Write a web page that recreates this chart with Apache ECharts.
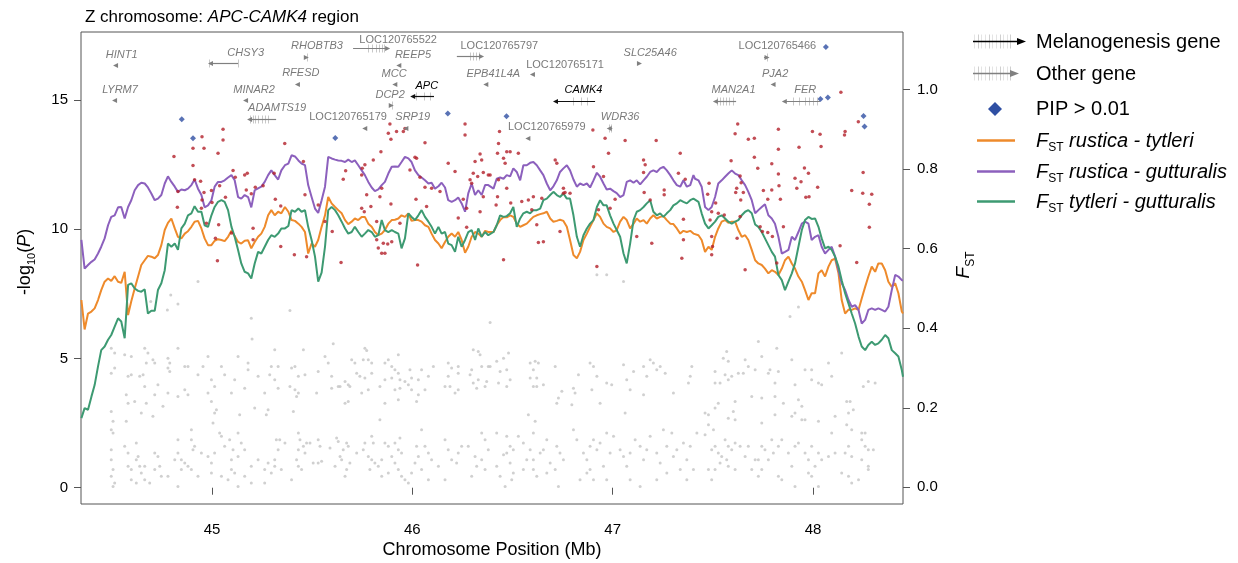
<!DOCTYPE html>
<html>
<head>
<meta charset="utf-8">
<script src="https://cdn.jsdelivr.net/npm/echarts@6/dist/echarts.min.js"></script>
<style>
  html, body { margin: 0; padding: 0; background: #fff; }
  #chart { width: 1238px; height: 563px; }
</style>
</head>
<body>
<div id="chart"></div>
<script>
// ---------- data ----------
// sliding-window centres (Mb) shared by the three FST tracks
const windowPos = [
  44.348,44.364,44.381,44.398,44.414,44.431,44.447,44.464,44.481,44.497,44.514,44.531,44.547,44.564,44.581,44.597,44.614,44.631,44.647,44.664,
  44.680,44.697,44.714,44.730,44.747,44.764,44.780,44.797,44.814,44.830,44.847,44.864,44.880,44.897,44.913,44.930,44.947,44.963,44.980,44.997,
  45.013,45.030,45.047,45.063,45.080,45.097,45.113,45.130,45.146,45.163,45.180,45.196,45.213,45.230,45.246,45.263,45.280,45.296,45.313,45.330,45.346,
  45.364,45.381,45.397,45.414,45.431,45.447,45.464,45.480,45.497,45.514,45.530,45.547,45.564,45.580,45.597,45.614,45.630,45.647,45.664,45.680,
  45.697,45.713,45.730,45.747,45.763,45.780,45.797,45.813,45.830,45.847,45.863,45.880,45.897,45.913,45.930,45.946,45.963,45.980,45.996,46.013,
  46.030,46.046,46.063,46.080,46.096,46.113,46.130,46.146,46.163,46.179,46.196,46.213,46.229,46.246,46.263,46.279,46.296,46.313,46.329,46.346,46.363,46.379,
  46.388,46.405,46.421,46.438,46.455,46.471,46.488,46.504,46.521,46.538,46.554,46.571,46.588,46.604,46.621,46.638,46.654,46.671,46.688,46.704,
  46.721,46.737,46.754,46.771,46.787,46.804,46.821,46.837,46.854,46.871,46.887,46.904,46.921,46.937,46.954,46.970,46.987,47.004,47.020,47.037,
  47.054,47.070,47.087,47.104,47.120,47.137,47.154,47.170,47.187,47.203,47.220,47.237,47.253,47.270,47.287,47.303,47.320,47.337,47.353,47.370,47.387,47.403,
  47.411,47.428,47.444,47.461,47.478,47.494,47.511,47.527,47.544,47.561,47.577,47.594,47.611,47.627,47.644,47.661,47.677,47.694,47.711,47.727,
  47.744,47.760,47.777,47.794,47.810,47.827,47.844,47.860,47.877,47.894,47.910,47.927,47.944,47.960,47.977,47.993,48.010,48.027,48.043,48.060,
  48.077,48.093,48.110,48.127,48.143,48.160,48.177,48.193,48.210,48.227,48.243,48.260,48.276,48.293,48.310,48.326,48.343,48.360,48.376,48.393,
  48.410,48.426,48.443,48.449
];

// FST rustica - tytleri
const fstRusticaTytleri = [
  .471,.397,.437,.442,.450,.471,.496,.517,.525,.519,.531,.517,.514,.542,.433,.468,.500,.530,.559,.571,
  .582,.580,.576,.584,.609,.647,.665,.676,.651,.630,.626,.638,.644,.655,.668,.670,.651,.626,.609,.609,
  .620,.624,.622,.619,.630,.645,.632,.617,.613,.620,.621,.601,.617,.630,.638,.655,.684,.697,.684,.693,.689,
  .705,.693,.672,.670,.663,.655,.642,.588,.613,.605,.622,.655,.684,.730,.714,.705,.697,.689,.672,.662,
  .668,.676,.672,.680,.680,.663,.655,.642,.634,.638,.647,.663,.672,.673,.676,.684,.680,.689,.670,.672,
  .672,.668,.659,.655,.638,.622,.613,.601,.617,.630,.638,.630,.642,.622,.590,.605,.630,.642,.638,.630,.645,.642,
  .642,.642,.659,.672,.680,.679,.684,.680,.663,.655,.659,.663,.672,.680,.684,.687,.689,.693,.676,.668,
  .670,.673,.670,.655,.622,.584,.576,.592,.622,.638,.655,.672,.689,.680,.663,.655,.651,.642,.647,.668,
  .680,.672,.651,.663,.676,.668,.672,.663,.676,.684,.676,.680,.682,.672,.663,.662,.651,.638,.645,.642,.645,.638,
  .638,.634,.622,.592,.605,.597,.630,.651,.668,.672,.665,.668,.668,.647,.630,.634,.622,.597,.571,.563,
  .559,.550,.538,.546,.542,.534,.550,.571,.580,.563,.550,.530,.517,.496,.471,.488,.488,.538,.546,.530,
  .555,.571,.575,.538,.471,.437,.447,.446,.450,.446,.475,.504,.530,.555,.542,.563,.563,.546,.517,.504,
  .513,.488,.442,.437
];

// FST rustica - gutturalis
const fstRusticaGutturalis = [
  .622,.550,.559,.567,.573,.588,.605,.626,.659,.680,.684,.704,.705,.676,.705,.722,.747,.760,.766,.764,
  .754,.739,.722,.726,.735,.764,.782,.768,.756,.743,.749,.747,.751,.760,.774,.751,.735,.704,.709,.722,
  .756,.768,.768,.772,.779,.785,.772,.730,.726,.735,.730,.704,.747,.752,.756,.768,.785,.797,.785,.774,.797,
  .810,.814,.835,.832,.822,.814,.810,.760,.730,.701,.690,.722,.756,.831,.827,.824,.822,.821,.818,.824,
  .818,.822,.810,.797,.785,.768,.754,.745,.749,.760,.768,.789,.806,.807,.806,.818,.831,.827,.818,.797,
  .785,.779,.772,.764,.766,.751,.757,.766,.754,.722,.718,.722,.729,.714,.693,.739,.764,.735,.747,.735,.760,.760,
  .764,.751,.776,.779,.776,.785,.782,.802,.793,.772,.810,.810,.816,.818,.810,.797,.785,.764,.747,.757,
  .772,.793,.802,.810,.797,.774,.756,.764,.760,.764,.754,.772,.791,.781,.764,.749,.751,.745,.740,.730,
  .735,.768,.772,.766,.772,.762,.772,.781,.793,.797,.793,.802,.806,.797,.785,.772,.760,.756,.772,.756,.760,.785,
  .776,.772,.756,.705,.697,.705,.730,.764,.772,.781,.789,.797,.789,.785,.772,.760,.743,.722,.689,.697,
  .705,.712,.684,.676,.663,.630,.588,.592,.597,.630,.622,.642,.663,.668,.663,.622,.630,.634,.605,.588,
  .597,.605,.580,.546,.513,.496,.471,.454,.458,.446,.412,.421,.446,.450,.446,.450,.446,.442,.454,.496,
  .534,.530,.521,.521
];

// FST tytleri - gutturalis
const fstTytleriGutturalis = [
  .174,.199,.195,.228,.257,.304,.345,.354,.371,.383,.404,.425,.417,.375,.509,.513,.500,.494,.492,.498,
  .437,.444,.444,.496,.513,.546,.613,.605,.613,.597,.651,.663,.684,.689,.707,.693,.693,.659,.655,.684,
  .705,.718,.722,.718,.697,.655,.630,.597,.563,.542,.538,.525,.563,.592,.588,.605,.622,.634,.630,.638,.651,
  .651,.657,.697,.693,.701,.693,.697,.655,.622,.580,.517,.540,.605,.697,.705,.697,.684,.668,.651,.638,
  .642,.655,.642,.630,.638,.647,.642,.630,.634,.672,.647,.642,.647,.642,.638,.601,.626,.689,.680,.672,
  .684,.697,.680,.668,.655,.638,.655,.638,.642,.613,.609,.592,.630,.605,.622,.642,.647,.622,.651,.630,.642,.634,
  .638,.642,.659,.684,.680,.682,.689,.705,.655,.676,.689,.693,.689,.697,.697,.701,.722,.726,.735,.743,
  .735,.730,.739,.726,.726,.684,.630,.605,.634,.651,.663,.672,.705,.722,.709,.709,.684,.663,.647,.630,
  .588,.563,.613,.672,.693,.697,.705,.714,.722,.693,.684,.689,.680,.689,.697,.709,.714,.722,.718,.714,.722,.726,
  .730,.718,.689,.663,.651,.659,.668,.680,.684,.676,.668,.663,.668,.672,.684,.693,.697,.689,.661,.655,
  .642,.626,.609,.592,.580,.534,.521,.496,.517,.538,.563,.605,.647,.672,.680,.675,.676,.655,.626,.601,
  .605,.597,.580,.555,.521,.488,.462,.437,.412,.379,.354,.345,.358,.366,.358,.362,.371,.383,.375,.345,
  .337,.329,.295,.278
];

// SNP association: [position (Mb), -log10(P)]
const snpsBackground = [
  [44.930,7.98],[44.794,7.46],[44.830,7.11],[44.694,7.20],[44.777,6.88],[45.196,6.56],[45.200,5.75],[44.497,5.40],[44.514,5.21],[44.564,5.14],
  [44.597,5.08],[44.664,5.40],[44.680,5.21],[44.714,4.82],[44.780,5.01],[44.789,4.82],[44.830,5.40],[44.864,4.69],[44.880,4.69],[44.980,5.08],
  [45.047,4.69],[45.130,5.08],[45.180,4.82],[45.313,5.34],[45.296,4.69],[45.330,4.69],[44.514,4.63],[44.497,4.43],[44.581,4.31],[44.597,4.37],
  [44.639,4.31],[44.656,4.37],[44.672,4.82],[44.705,4.95],[44.730,3.98],[44.780,4.63],[44.789,4.50],[44.930,4.37],[44.955,4.69],[44.997,4.18],
  [45.013,3.92],[45.063,4.37],[45.113,4.18],[45.180,4.56],[45.230,4.31],[45.288,4.37],[45.313,4.18],[45.330,3.85],[44.572,3.60],[44.664,3.92],
  [44.714,3.60],[44.780,3.66],[44.864,3.79],[44.880,3.60],[44.980,3.66],[45.097,3.66],[45.163,3.85],[45.263,3.66],[44.581,3.27],[44.614,3.34],
  [44.672,3.27],[44.755,3.15],[44.830,3.53],[44.997,3.34],[45.013,2.89],[45.022,3.02],[45.138,2.82],[45.213,3.08],[45.280,3.02],[45.271,2.82],
  [44.497,2.95],[44.506,2.57],[44.572,2.57],[44.647,2.89],[44.705,2.76],[44.897,2.24],[45.005,2.50],[44.497,2.24],[44.506,2.12],[44.830,1.86],
  [44.913,1.60],[45.038,2.12],[45.047,1.99],[45.130,2.12],[45.146,1.73],[45.088,1.86],[45.063,1.60],[45.105,1.47],[45.163,1.47],[45.013,1.34],
  [44.980,1.21],[44.997,0.96],[45.097,1.08],[45.130,1.21],[45.321,1.86],[45.338,1.86],[45.330,1.47],[45.313,1.08],[44.497,1.47],[44.497,1.08],
  [44.506,0.70],[44.497,0.44],[44.506,0.05],[44.514,0.18],[44.581,0.83],[44.597,0.70],[44.622,1.08],[44.631,1.21],[44.639,0.83],[44.647,0.57],
  [44.597,0.31],[44.622,0.18],[44.664,0.31],[44.689,0.18],[44.714,0.70],[44.739,0.83],[44.747,0.44],[44.814,1.08],[44.830,1.34],[44.847,1.08],
  [44.864,0.96],[44.880,0.83],[44.847,0.70],[44.897,0.70],[44.930,0.44],[44.830,0.05],[44.997,0.57],[45.047,0.44],[45.097,0.70],[45.113,0.57],
  [45.163,0.44],[45.196,0.83],[45.230,1.08],[45.263,0.70],[45.280,0.96],[45.296,0.57],[45.313,0.83],[45.346,0.70],[45.196,0.18],[45.263,0.18],
  [44.714,1.34],[44.730,1.21],[44.564,1.60],[44.581,1.34],[44.622,1.73],[44.897,1.86],[44.905,1.47],[44.947,1.34],[44.664,0.83],[44.780,0.44],
  [45.080,0.31],[45.130,0.05],
  [45.389,6.86],[45.605,5.57],[45.763,5.40],[45.772,5.31],[45.930,5.14],[46.304,5.34],[46.329,5.27],[46.338,5.14],[45.456,5.34],[45.564,5.08],
  [45.580,4.82],[45.697,4.95],[45.713,4.82],[45.755,4.95],[45.780,4.95],[45.797,4.82],[45.863,4.82],[45.880,4.95],[45.897,4.69],[45.913,4.56],
  [45.930,4.43],[45.988,4.56],[46.046,4.56],[46.105,4.69],[46.179,4.82],[46.196,4.63],[46.229,4.69],[46.296,4.56],[46.346,4.69],[46.379,4.69],
  [45.397,4.63],[45.414,4.69],[45.431,4.31],[45.464,4.37],[45.530,4.50],[45.597,4.31],[45.639,3.92],[45.664,4.11],[45.680,3.98],[45.722,4.43],
  [45.738,4.31],[45.763,4.24],[45.797,4.43],[45.863,4.18],[45.897,4.24],[45.938,4.18],[45.963,4.11],[45.996,4.24],[46.030,4.18],[46.080,4.31],
  [46.179,4.31],[46.229,4.43],[46.288,4.37],[46.329,4.18],[46.371,4.11],[45.389,3.92],[45.414,3.79],[45.431,3.66],[45.422,3.53],[45.522,3.66],
  [45.597,3.85],[45.630,3.92],[45.688,3.92],[45.747,3.66],[45.780,3.79],[45.838,3.92],[45.913,3.79],[45.938,3.85],[45.980,3.98],[45.996,3.79],
  [46.030,3.60],[46.063,3.79],[46.163,3.92],[46.188,3.92],[46.213,3.66],[46.229,3.79],[46.304,4.05],[46.321,3.85],[46.363,3.92],[45.664,3.27],
  [45.680,3.34],[45.863,3.27],[45.930,3.40],[46.021,3.34],[45.406,2.95],[45.838,2.63],[46.046,2.24],[45.364,1.73],[45.431,2.12],[45.439,1.86],
  [45.456,1.60],[45.472,1.73],[45.489,1.73],[45.530,1.86],[45.539,1.60],[45.431,1.47],[45.464,1.34],[45.422,1.08],[45.431,0.83],[45.447,0.70],
  [45.397,0.31],[45.505,0.96],[45.530,0.96],[45.547,1.02],[45.589,1.54],[45.622,1.92],[45.630,1.79],[45.655,1.47],[45.672,1.73],[45.680,1.60],
  [45.639,1.21],[45.647,1.08],[45.672,0.70],[45.664,0.44],[45.614,0.83],[45.688,0.96],[45.722,1.34],[45.755,1.47],[45.763,1.73],[45.797,1.99],
  [45.805,1.73],[45.780,1.21],[45.797,1.08],[45.813,0.96],[45.788,0.70],[45.830,0.83],[45.847,1.08],[45.863,1.73],[45.880,1.60],[45.913,1.73],
  [45.938,1.92],[45.930,1.47],[45.946,1.34],[45.897,1.21],[45.913,0.96],[45.930,0.70],[45.880,0.57],[45.847,0.44],[45.946,0.44],[45.963,0.31],
  [45.980,0.18],[45.996,0.57],[46.013,0.96],[46.030,1.21],[46.063,1.60],[46.080,1.34],[46.046,0.70],[46.021,1.60],[46.096,1.08],[46.130,0.83],
  [46.163,1.86],[46.179,1.47],[46.196,1.08],[46.229,1.34],[46.221,0.96],[46.246,1.60],[46.279,1.60],[46.313,1.21],[46.346,2.12],[46.363,1.86],
  [46.379,1.47],[46.346,1.08],[46.321,0.83],[46.363,0.70],[46.163,0.31],[46.296,0.44],[46.080,0.31],
  [46.388,6.39],[46.921,8.24],[46.970,8.24],[47.054,7.98],[46.480,5.21],[46.455,5.01],[46.421,4.89],[46.388,4.69],[46.471,4.56],[46.438,4.50],
  [46.488,4.18],[46.430,4.05],[46.471,3.92],[46.588,4.82],[46.613,4.89],[46.629,4.82],[46.604,4.56],[46.588,4.24],[46.621,4.24],[46.604,3.92],
  [46.621,3.92],[46.654,3.98],[46.713,4.69],[46.729,3.47],[46.721,3.27],[46.796,3.21],[46.746,3.73],[46.829,4.37],[46.887,4.82],[46.904,4.69],
  [46.921,4.31],[46.896,3.79],[46.804,3.85],[46.812,3.66],[46.937,3.27],[46.970,4.05],[46.995,3.98],[47.054,4.76],[47.070,4.18],[47.087,3.79],
  [47.154,4.69],[47.187,4.95],[47.203,4.82],[47.237,4.69],[47.220,4.56],[47.170,4.31],[47.154,3.60],[47.104,4.50],[47.262,4.43],[47.303,3.66],
  [47.387,4.31],[47.395,4.69],[47.378,4.05],[46.579,2.82],[46.613,2.57],[47.062,2.89],[46.421,2.12],[46.471,1.99],[46.488,1.60],[46.504,1.47],
  [46.455,1.28],[46.421,0.83],[46.471,1.34],[46.488,0.96],[46.438,0.44],[46.504,0.57],[46.463,0.05],[46.496,0.31],[46.529,1.99],[46.554,1.73],
  [46.604,2.12],[46.588,1.47],[46.571,1.08],[46.604,1.08],[46.638,1.34],[46.671,1.86],[46.654,1.47],[46.688,0.96],[46.721,1.60],[46.737,1.34],
  [46.754,1.08],[46.713,0.70],[46.671,0.57],[46.621,0.44],[46.729,0.05],[46.804,2.24],[46.821,1.86],[46.854,1.34],[46.871,1.08],[46.887,1.60],
  [46.904,1.86],[46.921,1.47],[46.937,1.73],[46.887,0.70],[46.837,0.31],[46.871,0.57],[46.904,0.31],[46.954,0.83],[46.970,0.31],[46.987,1.34],
  [46.970,2.12],[47.004,1.99],[47.037,1.47],[47.054,1.21],[47.070,0.83],[47.087,1.34],[47.112,1.86],[47.137,1.60],[47.154,1.08],[47.170,1.47],
  [47.187,1.99],[47.220,1.34],[47.237,0.96],[47.253,2.24],[47.270,1.60],[47.295,2.12],[47.303,1.21],[47.320,1.47],[47.353,1.73],[47.370,1.08],
  [47.387,1.60],[47.403,0.70],[47.420,2.12],[47.270,0.57],[47.337,0.70],[47.220,0.31],[47.087,0.31],[47.137,0.05],[47.370,0.31],[46.604,0.70],
  [46.554,0.70],
  [47.927,6.99],[47.885,6.62],[47.727,5.66],[47.819,5.40],[48.143,5.21],[47.569,5.27],[47.552,5.01],[47.577,4.89],[47.661,4.95],[47.677,4.69],
  [47.627,4.43],[47.652,4.43],[47.511,4.50],[47.561,4.37],[47.577,4.18],[47.511,4.05],[47.536,4.05],[47.594,4.31],[47.711,4.56],[47.744,5.08],
  [47.777,4.43],[47.785,4.56],[47.827,4.50],[47.810,4.05],[47.894,4.95],[47.910,3.98],[47.960,4.56],[47.993,4.56],[48.027,4.05],[48.043,3.98],
  [48.077,4.82],[48.093,4.31],[47.993,4.18],[48.251,3.92],[48.276,4.11],[48.310,4.05],[47.694,3.53],[47.744,3.47],[47.810,3.53],[47.852,3.27],
  [47.927,3.40],[47.944,3.15],[47.611,3.34],[47.527,3.27],[47.461,2.89],[47.478,2.82],[47.511,3.08],[47.577,2.69],[47.602,2.95],[47.611,2.63],
  [47.744,2.50],[47.810,2.82],[47.894,2.76],[47.910,2.89],[47.944,2.63],[47.960,2.63],[48.027,2.57],[48.110,2.76],[48.168,3.34],[48.185,3.34],
  [48.177,2.89],[48.201,3.02],[48.168,2.44],[48.193,2.24],[48.243,2.12],[48.260,2.12],[47.478,2.44],[47.503,2.24],[47.461,2.05],[47.511,1.60],
  [47.494,1.47],[47.527,1.34],[47.544,1.21],[47.561,1.86],[47.577,1.60],[47.594,1.47],[47.611,1.73],[47.636,1.60],[47.569,1.08],[47.536,0.96],
  [47.577,0.83],[47.511,0.70],[47.478,0.70],[47.494,0.31],[47.611,0.70],[47.661,1.21],[47.677,1.60],[47.711,1.08],[47.744,1.60],[47.760,1.47],
  [47.794,1.86],[47.802,1.34],[47.777,1.08],[47.827,1.60],[47.844,1.86],[47.877,1.34],[47.894,0.83],[47.910,1.60],[47.927,1.73],[47.960,1.34],
  [47.977,1.08],[47.993,1.60],[48.010,0.83],[48.027,1.34],[48.043,1.08],[48.077,1.21],[48.093,2.12],[48.110,1.34],[48.160,1.34],[48.177,1.60],
  [48.193,1.21],[48.243,1.86],[48.260,1.60],[48.276,1.47],[48.301,1.47],[48.243,1.08],[48.276,0.83],[47.694,0.70],[47.744,0.70],[47.727,0.44],
  [47.827,0.44],[47.844,0.31],[47.910,0.05],[47.977,0.57],[47.993,0.44],[48.027,0.05],[48.143,0.57],[48.177,0.44],[48.193,0.18],[48.227,0.31],
  [48.276,0.70],[47.727,1.08]
];

const snpsSignificant = [
  [44.950,13.58],[45.055,13.87],[45.055,13.45],[44.905,13.13],[44.960,13.13],[45.030,12.94],[44.810,12.81],[44.905,12.47],[45.105,12.27],[45.116,12.01],
  [45.163,12.10],[45.176,12.17],[44.913,11.91],[44.943,11.86],[44.830,11.46],[44.960,11.42],[44.997,11.50],[45.038,11.68],[45.067,11.24],[44.827,10.85],
  [44.950,11.13],[45.000,11.03],[44.947,10.81],[44.972,10.23],[45.033,10.17],[45.017,9.65],[45.027,8.78],[45.171,11.52],[45.196,11.37],[45.216,11.62],
  [45.255,11.68],[45.205,10.04],[45.205,9.59],[45.343,9.33],[45.316,11.16],[45.343,10.90],[45.363,13.32],[45.310,12.17],[45.097,9.85],
  [45.456,12.62],[45.464,11.33],[45.530,10.94],[45.411,9.01],[45.472,8.94],[45.564,10.30],[45.600,9.91],[45.644,8.71],[45.655,11.93],[45.667,12.26],
  [45.747,12.10],[45.750,12.36],[45.763,12.49],[45.805,12.68],[45.843,13.00],[45.772,11.33],[45.793,10.88],[45.747,10.81],[45.760,10.68],[45.822,10.30],
  [45.838,11.26],[45.847,11.59],[45.822,9.59],[45.830,9.27],[45.847,9.07],[45.863,9.07],[45.855,9.46],[45.877,9.43],[45.897,9.52],[45.893,10.98],
  [45.880,13.71],[45.893,13.48],[45.888,14.07],[45.921,13.78],[45.938,10.23],[45.955,13.78],[45.963,13.90],[45.988,12.29],[46.013,12.78],[46.021,12.75],
  [46.018,11.16],[46.026,8.62],[46.038,12.01],[46.063,13.35],[46.063,11.62],[46.071,10.88],[46.096,11.59],[46.138,11.46],[46.179,12.55],[46.213,12.23],
  [46.229,10.43],[46.254,11.16],[46.263,14.07],[46.263,13.65],[46.271,10.08],[46.288,11.91],[46.296,11.78],[46.304,12.17],[46.313,12.62],[46.326,12.04],
  [46.346,12.68],[46.354,12.19],[46.338,12.91],[46.354,11.26],[46.338,10.68],[46.379,12.10],[46.271,10.81],
  [46.435,13.78],[46.430,13.32],[46.425,12.94],[46.471,13.00],[46.488,13.00],[46.455,12.75],[46.463,12.55],[46.529,12.94],[46.388,12.10],[46.430,11.91],
  [46.471,11.59],[46.425,11.26],[46.418,10.94],[46.491,11.01],[46.546,11.07],[46.579,11.13],[46.604,11.26],[46.596,10.75],[46.621,10.17],[46.629,9.49],
  [46.654,9.52],[46.455,8.82],[46.646,11.20],[46.713,12.68],[46.721,12.55],[46.737,9.91],[46.754,11.59],[46.754,11.39],[46.762,11.42],[46.787,11.39],
  [46.901,13.84],[46.962,13.52],[46.979,12.94],[46.904,12.42],[46.929,10.75],[46.921,8.56],[46.954,12.04],[46.987,10.81],[47.062,13.43],[47.012,11.16],
  [47.120,9.72],[47.154,12.68],[47.162,12.49],[47.157,11.42],[47.195,9.46],[47.187,11.13],[47.217,13.43],[47.257,11.52],[47.257,11.33],[47.353,10.39],
  [47.337,12.94],[47.345,8.88],[47.353,9.59],[47.362,11.93],[47.328,12.17],[47.154,12.19],
  [47.624,14.07],[47.611,13.69],[47.677,13.48],[47.707,13.52],[47.827,13.87],[47.827,13.09],[47.930,13.17],[47.997,13.78],[48.035,13.67],[48.040,13.20],
  [48.160,13.78],[48.157,13.65],[48.226,14.16],[47.591,12.65],[47.707,12.78],[47.724,12.36],[47.794,12.53],[47.481,11.78],[47.474,11.35],[47.514,11.01],
  [47.636,12.06],[47.641,11.80],[47.619,11.59],[47.614,11.42],[47.652,11.42],[47.639,11.13],[47.494,10.68],[47.527,10.62],[47.557,10.55],[47.486,10.36],
  [47.636,10.49],[47.752,11.50],[47.794,11.52],[47.827,12.14],[47.830,11.68],[47.774,11.16],[47.837,11.16],[47.910,11.97],[47.940,11.84],[47.919,11.59],
  [47.957,12.37],[47.977,12.17],[48.023,11.62],[47.964,11.24],[47.980,11.26],[47.736,10.10],[47.774,9.87],[47.797,9.72],[47.747,9.91],[47.852,10.10],
  [47.621,9.65],[47.494,9.72],[47.498,9.33],[47.494,9.01],[47.661,8.43],[47.819,8.69],[48.135,9.36],[48.218,8.71],[48.193,11.50],[48.250,12.19],
  [48.248,11.39],[48.293,11.35],[48.281,10.97],[48.281,10.08],[48.139,15.30]
];

// SNPs with posterior inclusion probability > 0.01
const snpsPip = [
  [44.849,14.25],[44.905,13.52],[45.615,13.53],[46.177,14.48],[46.470,14.37],
  [48.064,17.05],[48.037,15.04],[48.074,15.10],[48.252,14.38],[48.257,13.97]
];

// genes: name, start, end, strand (arrow side), track height, label x, label y, melanogenesis
const genes = [
  ['HINT1',        44.506, 44.526, -1, 16.35, 44.549, 16.74, 0],
  ['LYRM7',        44.501, 44.521, -1, 15.00, 44.541, 15.38, 0],
  ['CHSY3',        44.980, 45.130, -1, 16.43, 45.168, 16.81, 0],
  ['RHOBTB3',      45.463, 45.483,  1, 16.67, 45.524, 17.09, 0],
  ['RFESD',        45.414, 45.434, -1, 15.62, 45.443, 16.04, 0],
  ['MINAR2',       45.155, 45.175, -1, 15.00, 45.210, 15.38, 0],
  ['ADAMTS19',     45.175, 45.320, -1, 14.26, 45.325, 14.69, 0],
  ['LOC120765179', 45.750, 45.768, -1, 13.92, 45.679, 14.35, 0],
  ['LOC120765522', 45.704, 45.889,  1, 17.00, 45.929, 17.34, 0],
  ['REEP5',        45.920, 45.938, -1, 16.35, 46.003, 16.74, 0],
  ['MCC',          45.900, 45.918, -1, 15.60, 45.909, 16.01, 0],
  ['APC',          45.989, 46.108, -1, 15.16, 46.072, 15.55, 1],
  ['DCP2',         45.887, 45.907,  1, 14.80, 45.889, 15.19, 0],
  ['SRP19',        45.955, 45.973, -1, 13.92, 46.002, 14.34, 0],
  ['LOC120765797', 46.222, 46.358,  1, 16.69, 46.434, 17.10, 0],
  ['EPB41L4A',     46.354, 46.372, -1, 15.60, 46.404, 16.01, 0],
  ['LOC120765171', 46.587, 46.605, -1, 15.99, 46.762, 16.35, 0],
  ['CAMK4',        46.702, 46.912, -1, 14.97, 46.854, 15.38, 1],
  ['LOC120765979', 46.564, 46.582, -1, 13.54, 46.671, 13.95, 0],
  ['WDR36',        46.970, 46.998, -1, 13.90, 47.037, 14.34, 0],
  ['SLC25A46',     47.128, 47.146,  1, 16.42, 47.187, 16.81, 0],
  ['MAN2A1',       47.500, 47.616, -1, 14.97, 47.603, 15.38, 0],
  ['LOC120765466', 47.755, 47.783,  1, 16.67, 47.822, 17.09, 0],
  ['PJA2',         47.788, 47.806, -1, 15.60, 47.811, 16.01, 0],
  ['FER',          47.844, 48.035, -1, 14.97, 47.961, 15.38, 0]
];

// exon positions (Mb) per gene
const exons = [
  ['CHSY3', 44.985], ['CHSY3', 45.128],
  ['ADAMTS19', 45.190], ['ADAMTS19', 45.205], ['ADAMTS19', 45.215], ['ADAMTS19', 45.230], ['ADAMTS19', 45.250], ['ADAMTS19', 45.265], ['ADAMTS19', 45.280],
  ['LOC120765522', 45.780], ['LOC120765522', 45.800], ['LOC120765522', 45.820], ['LOC120765522', 45.835], ['LOC120765522', 45.850], ['LOC120765522', 45.860],
  ['APC', 46.020], ['APC', 46.060], ['APC', 46.090],
  ['LOC120765797', 46.290], ['LOC120765797', 46.305], ['LOC120765797', 46.320], ['LOC120765797', 46.335],
  ['CAMK4', 46.800], ['CAMK4', 46.840], ['CAMK4', 46.870],
  ['MAN2A1', 47.520], ['MAN2A1', 47.535], ['MAN2A1', 47.550], ['MAN2A1', 47.565], ['MAN2A1', 47.580],
  ['FER', 47.900], ['FER', 47.930], ['FER', 47.960], ['FER', 47.980], ['FER', 48.000], ['FER', 48.020],
  ['RHOBTB3', 45.473], ['WDR36', 46.980], ['WDR36', 46.990], ['DCP2', 45.897], ['LOC120765466', 47.768], ['MAN2A1', 47.600]
];

const xTicks = [45, 46, 47, 48];
const pTicks = [0, 5, 10, 15];
const fstTicks = [0, 0.2, 0.4, 0.6, 0.8, 1.0];

// ---------- chart ----------
const FONT = '"Liberation Sans", Arial, Helvetica, sans-serif';
const COL_ORANGE = '#EE8A2B';
const COL_PURPLE = '#8C60BD';
const COL_GREEN = '#3D9A72';
const COL_RED = '#B3202A';
const COL_BLUE = '#2F4FA3';

const chart = echarts.init(document.getElementById('chart'), null, { renderer: 'canvas' });

const zip = (vals) => windowPos.map((p, i) => [p, vals[i]]);

function renderGene(params, api) {
  const g = genes[params.dataIndex];
  const p0 = api.coord([g[1], g[4]]);
  const p1 = api.coord([g[2], g[4]]);
  const y = Math.round(p0[1]) + 0.5;
  const x0 = p0[0], x1 = p1[0];
  const col = g[7] ? '#111111' : '#808080';
  const children = [];
  exons.filter(e => e[0] === g[0]).forEach(e => {
    const ex = Math.round(api.coord([e[1], g[4]])[0]) + 0.5;
    children.push({ type: 'line', shape: { x1: ex, y1: y - 4, x2: ex, y2: y + 4 },
      style: { stroke: '#c8c8c8', lineWidth: 1 } });
  });
  const head = 5, hw = 2.5;
  if (g[3] > 0) {
    children.push({ type: 'line', shape: { x1: x0, y1: y, x2: x1 - head + 1, y2: y }, style: { stroke: col, lineWidth: 1.2 } });
    children.push({ type: 'polygon', shape: { points: [[x1, y], [x1 - head, y - hw], [x1 - head, y + hw]] }, style: { fill: col } });
  } else {
    children.push({ type: 'line', shape: { x1: x0 + head - 1, y1: y, x2: x1, y2: y }, style: { stroke: col, lineWidth: 1.2 } });
    children.push({ type: 'polygon', shape: { points: [[x0, y], [x0 + head, y - hw], [x0 + head, y + hw]] }, style: { fill: col } });
  }
  const lp = api.coord([g[5], g[6]]);
  const isLoc = g[0].indexOf('LOC') === 0;
  children.push({
    type: 'text', x: lp[0], y: lp[1],
    style: {
      text: g[0], fill: g[7] ? '#000000' : '#7a7a7a',
      font: (isLoc ? '' : 'italic ') + '11px ' + FONT,
      align: 'center', verticalAlign: 'middle'
    }
  });
  return { type: 'group', children: children };
}

const legendRich = {
  i: { fontFamily: FONT, fontSize: 20, fontStyle: 'italic', fontWeight: 'normal', color: '#000', lineHeight: 26 },
  s: { fontFamily: FONT, fontSize: 12, fontWeight: 'normal', color: '#000', lineHeight: 13, verticalAlign: 'bottom' }
};

function stripes(x0, yc) {
  const xs = [0, 4, 7, 11, 15, 18, 22, 26, 29, 33, 36];
  return xs.map((dx, k) => ({
    type: 'line', shape: { x1: x0 + dx + 0.5, y1: yc - 7, x2: x0 + dx + 0.5, y2: yc + 7 },
    style: { stroke: k % 3 === 1 ? '#cfcfcf' : '#e4e4e4', lineWidth: 1 }
  }));
}

function legendArrow(x0, x1, yc, color) {
  return [
    { type: 'line', shape: { x1: x0, y1: yc, x2: x1 - 6, y2: yc }, style: { stroke: color, lineWidth: 1.6 } },
    { type: 'polygon', shape: { points: [[x1, yc], [x1 - 9, yc - 3.5], [x1 - 9, yc + 3.5]] }, style: { fill: color } }
  ];
}

const graphics = [].concat(
  stripes(974, 41.5), legendArrow(973, 1026, 41.5, '#000000'),
  stripes(974, 73.5), legendArrow(973, 1019, 73.5, '#808080'),
  [
    { type: 'text', x: 1036, y: 42, style: { text: 'Melanogenesis gene', font: '20px ' + FONT, fill: '#000', verticalAlign: 'middle' } },
    { type: 'text', x: 1036, y: 74, style: { text: 'Other gene', font: '20px ' + FONT, fill: '#000', verticalAlign: 'middle' } },
    { type: 'polygon', shape: { points: [[995, 102], [1002, 109], [995, 116], [988, 109]] }, style: { fill: COL_BLUE } },
    { type: 'text', x: 1036, y: 109, style: { text: 'PIP > 0.01', font: '20px ' + FONT, fill: '#000', verticalAlign: 'middle' } },
    { type: 'line', shape: { x1: 977, y1: 140.5, x2: 1015, y2: 140.5 }, style: { stroke: COL_ORANGE, lineWidth: 2.5 } },
    { type: 'line', shape: { x1: 977, y1: 171.5, x2: 1015, y2: 171.5 }, style: { stroke: COL_PURPLE, lineWidth: 2.5 } },
    { type: 'line', shape: { x1: 977, y1: 201.5, x2: 1015, y2: 201.5 }, style: { stroke: COL_GREEN, lineWidth: 2.5 } },
    { type: 'text', x: 1036, y: 141, style: { text: '{i|F}{s|ST}{i| rustica - tytleri}', rich: legendRich, verticalAlign: 'middle' } },
    { type: 'text', x: 1036, y: 172, style: { text: '{i|F}{s|ST}{i| rustica - gutturalis}', rich: legendRich, verticalAlign: 'middle' } },
    { type: 'text', x: 1036, y: 202, style: { text: '{i|F}{s|ST}{i| tytleri - gutturalis}', rich: legendRich, verticalAlign: 'middle' } },
    // axis titles
    { type: 'text', x: 492, y: 550, style: { text: 'Chromosome Position (Mb)', font: '18px ' + FONT, fill: '#000', align: 'center', verticalAlign: 'middle' } },
    { type: 'text', x: 25, y: 262, rotation: Math.PI / 2,
      style: { text: '{a|-log}{s|10}{a|(}{i|P}{a|)}', align: 'center', verticalAlign: 'middle',
        rich: {
          a: { fontFamily: FONT, fontSize: 18, color: '#000', lineHeight: 24 },
          i: { fontFamily: FONT, fontSize: 18, fontStyle: 'italic', color: '#000', lineHeight: 24 },
          s: { fontFamily: FONT, fontSize: 11, color: '#000', lineHeight: 12, verticalAlign: 'bottom' }
        } } },
    { type: 'text', x: 964, y: 265, rotation: Math.PI / 2,
      style: { text: '{i|F}{s|ST}', align: 'center', verticalAlign: 'middle',
        rich: {
          i: { fontFamily: FONT, fontSize: 19, fontStyle: 'italic', color: '#000', lineHeight: 26 },
          s: { fontFamily: FONT, fontSize: 12, color: '#000', lineHeight: 13, verticalAlign: 'bottom' }
        } } }
  ]
);

const axisTickStyle = { show: true, length: 7, inside: false, lineStyle: { color: '#555', width: 1 } };

const option = {
  animation: false,
  backgroundColor: '#ffffff',
  title: {
    text: '{n|Z chromosome: }{i|APC-CAMK4}{n| region}',
    left: 80, top: 4,
    textStyle: {
      fontWeight: 'normal',
      rich: {
        n: { fontFamily: FONT, fontSize: 17, fontWeight: 'normal', color: '#000' },
        i: { fontFamily: FONT, fontSize: 17, fontStyle: 'italic', fontWeight: 'normal', color: '#000' }
      }
    }
  },
  grid: { left: 81, right: 335, top: 32, bottom: 59, show: true, borderColor: '#555', borderWidth: 1, backgroundColor: 'transparent' },
  xAxis: {
    type: 'value', min: 44.346, max: 48.449,
    axisLine: { show: false },
    splitLine: { show: false },
    axisTick: Object.assign({ customValues: xTicks }, axisTickStyle),
    axisLabel: { customValues: xTicks, margin: 18, fontFamily: FONT, fontSize: 15, color: '#000', formatter: v => String(v) }
  },
  yAxis: [
    {
      type: 'value', position: 'left', min: -0.63, max: 17.63,
      axisLine: { show: false }, splitLine: { show: false },
      axisTick: Object.assign({ customValues: pTicks }, axisTickStyle),
      axisLabel: { customValues: pTicks, margin: 13, fontFamily: FONT, fontSize: 15, color: '#000', formatter: v => String(v) }
    },
    {
      type: 'value', position: 'right', min: -0.042, max: 1.145,
      axisLine: { show: false }, splitLine: { show: false },
      axisTick: Object.assign({ customValues: fstTicks }, axisTickStyle),
      axisLabel: { customValues: fstTicks, margin: 14, fontFamily: FONT, fontSize: 15, color: '#000', formatter: v => v.toFixed(1) }
    }
  ],
  graphic: graphics,
  series: [
    {
      name: 'background SNPs', type: 'scatter', yAxisIndex: 0, data: snpsBackground,
      symbol: 'circle', symbolSize: 3, itemStyle: { color: '#c4c4c4' }, silent: true, z: 1
    },
    {
      name: 'FST rustica - tytleri', type: 'line', yAxisIndex: 1, data: zip(fstRusticaTytleri),
      showSymbol: false, lineStyle: { color: COL_ORANGE, width: 2 }, silent: true, z: 2
    },
    {
      name: 'FST rustica - gutturalis', type: 'line', yAxisIndex: 1, data: zip(fstRusticaGutturalis),
      showSymbol: false, lineStyle: { color: COL_PURPLE, width: 2 }, silent: true, z: 2
    },
    {
      name: 'FST tytleri - gutturalis', type: 'line', yAxisIndex: 1, data: zip(fstTytleriGutturalis),
      showSymbol: false, lineStyle: { color: COL_GREEN, width: 2 }, silent: true, z: 2
    },
    {
      name: 'significant SNPs', type: 'scatter', yAxisIndex: 0, data: snpsSignificant,
      symbol: 'circle', symbolSize: 3.5, itemStyle: { color: COL_RED }, silent: true, z: 3
    },
    {
      name: 'PIP > 0.01', type: 'scatter', yAxisIndex: 0, data: snpsPip,
      symbol: 'diamond', symbolSize: 6, itemStyle: { color: COL_BLUE }, silent: true, z: 4
    },
    {
      name: 'genes', type: 'custom', yAxisIndex: 0, clip: false, silent: true, z: 5,
      data: genes.map(g => [g[1], g[4]]),
      encode: { x: 0, y: 1 },
      renderItem: renderGene
    }
  ]
};

chart.setOption(option);
</script>
</body>
</html>
